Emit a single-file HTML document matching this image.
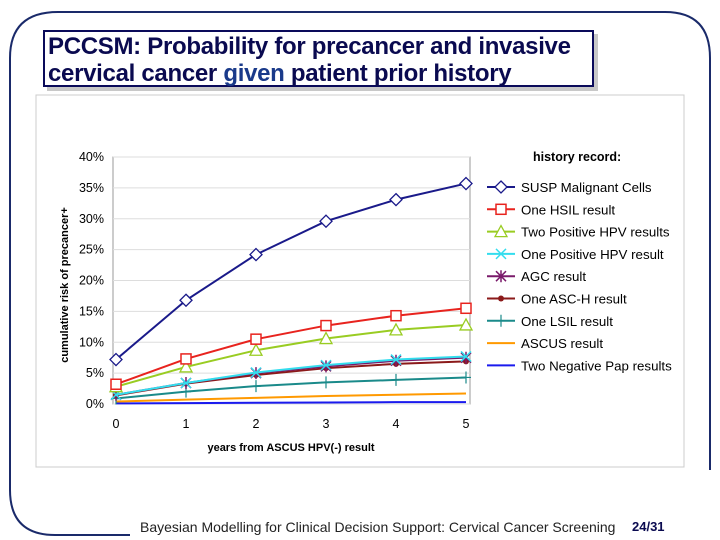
<!DOCTYPE html>
<html><head><meta charset="utf-8"><style>
body{margin:0;width:720px;height:540px;background:#fff;overflow:hidden;font-family:"Liberation Sans",Arial,sans-serif;position:relative}
#title{position:absolute;left:43px;top:30px;width:551px;height:57px;border:2px solid #0a0a5a;background:#fff;box-shadow:4px 4px 0 #c8c8c8;font-size:24px;font-weight:bold;color:#0a0a50;line-height:27px;padding:1px 0 0 3px;box-sizing:border-box;white-space:nowrap;letter-spacing:-0.3px}
#footer{position:absolute;left:140px;top:519px;font-size:14px;color:#222}
#pg{position:absolute;left:632px;top:519px;font-size:13px;font-weight:bold;color:#0a0a50}
</style></head><body>
<svg width="720" height="540" style="position:absolute;left:0;top:0">
<path d="M130 535 L55 535 Q10 535 10 490 L10 58 Q10 12 58 12 L665 12 Q710 12 710 58 L710 470" fill="none" stroke="#1a2a6a" stroke-width="2"/>
<rect x="36" y="95" width="648" height="372" fill="#fff" stroke="#ccc" stroke-width="1"/>
</svg>
<div id="title">PCCSM: Probability for precancer and invasive<br>cervical cancer <span style="color:#1a3a8a">given</span> patient prior history</div>
<svg id="chart" width="720" height="540" style="position:absolute;left:0;top:0"></svg>
<div id="footer">Bayesian Modelling for Clinical Decision Support: Cervical Cancer Screening</div>
<div id="pg">24/31</div>
<script>
const years=[0,1,2,3,4,5];
const yTicks=[0,5,10,15,20,25,30,35,40];
const names=["SUSP Malignant Cells","One HSIL result","Two Positive HPV results","One Positive HPV result","AGC result","One ASC-H result","One LSIL result","ASCUS result","Two Negative Pap results"];
const susp=[7.2,16.8,24.2,29.6,33.1,35.7];
const hsil=[3.2,7.3,10.5,12.7,14.3,15.5];
const twoPos=[2.8,6.0,8.7,10.6,12.0,12.8];
const onePos=[1.5,3.4,5.1,6.3,7.2,7.7];
const agc=[1.5,3.4,5.0,6.1,7.0,7.5];
const asch=[1.4,3.3,4.7,5.8,6.5,6.9];
const lsil=[0.9,2.0,2.9,3.5,3.9,4.3];
const ascus=[0.4,0.7,1.0,1.3,1.5,1.7];
const twoNeg=[0.1,0.15,0.2,0.25,0.3,0.3];
const series=[susp,hsil,twoPos,onePos,agc,asch,lsil,ascus,twoNeg];
const colors=["#1a1a8a","#e8231e","#99cc22","#33ddee","#7a1a6a","#8b1a1a","#1a8a8a","#ff9900","#1a1aee"];
const markers=["diamond","square","triangle","x","star","dot","plus","none","none"];
const svg=document.getElementById('chart');const NS="http://www.w3.org/2000/svg";
function mk(t,a,p){const e=document.createElementNS(NS,t);for(const k in a)e.setAttribute(k,a[k]);(p||svg).appendChild(e);return e;}
const X0=116,X1=466,Y0=404,Y1=157;
const xs=v=>X0+(X1-X0)*v/5, ys=v=>Y0-(Y0-Y1)*v/40;
mk('rect',{x:113,y:157,width:357,height:247,fill:'#fff',stroke:'#999'});
yTicks.forEach(t=>{const l=mk('line',{x1:113,x2:470,y1:ys(t),y2:ys(t),stroke:'#ddd'});


const tx=mk('text',{x:104,y:ys(t)+4,'text-anchor':'end','font-size':12.5,fill:'#000'});tx.textContent=t+'%';

});
years.forEach(v=>{const tx=mk('text',{x:xs(v),y:428,'text-anchor':'middle','font-size':12.5,fill:'#000'});tx.textContent=v;

});
const xt=mk('text',{x:291,y:451,'text-anchor':'middle','font-size':11,'font-weight':'bold'});xt.textContent='years from ASCUS HPV(-) result';


const yt=mk('text',{x:0,y:0,'text-anchor':'middle','font-size':11,'font-weight':'bold',transform:'translate(68,285) rotate(-90)'});yt.textContent='cumulative risk of precancer+';


function marker(type,x,y,c,g){
 if(type=='diamond')mk('path',{d:`M${x} ${y-6}L${x+6} ${y}L${x} ${y+6}L${x-6} ${y}Z`,fill:'#fff',stroke:c,'stroke-width':1.3},g);
 else if(type=='square')mk('rect',{x:x-5,y:y-5,width:10,height:10,fill:'#fff',stroke:c,'stroke-width':1.5},g);
 else if(type=='triangle')mk('path',{d:`M${x} ${y-6}L${x+6} ${y+5}L${x-6} ${y+5}Z`,fill:'#fff',stroke:c,'stroke-width':1.3},g);
 else if(type=='x')mk('path',{d:`M${x-5} ${y-5}L${x+5} ${y+5}M${x+5} ${y-5}L${x-5} ${y+5}`,stroke:c,'stroke-width':1.5},g);
 else if(type=='star')mk('path',{d:`M${x-5} ${y-5}L${x+5} ${y+5}M${x+5} ${y-5}L${x-5} ${y+5}M${x} ${y-6}L${x} ${y+6}`,stroke:c,'stroke-width':1.5},g);
 else if(type=='dot')mk('circle',{cx:x,cy:y,r:3,fill:c},g);
 else if(type=='plus')mk('path',{d:`M${x-5} ${y}L${x+5} ${y}M${x} ${y-6}L${x} ${y+6}`,stroke:c,'stroke-width':1.2},g);
}
for(let i=series.length-1;i>=0;i--){
 const g=mk('g',{});
 
 
 mk('polyline',{points:series[i].map((v,j)=>xs(years[j])+','+ys(v)).join(' '),fill:'none',stroke:colors[i],'stroke-width':2},g);
 series[i].forEach((v,j)=>marker(markers[i],xs(years[j]),ys(v),colors[i],g));
}
const lh=mk('text',{x:533,y:161,'font-size':12.5,'font-weight':'bold'});lh.textContent='history record:';


names.forEach((n,i)=>{const y=187+i*22.3;const g=mk('g',{});
 
 
 mk('line',{x1:487,x2:515,y1:y,y2:y,stroke:colors[i],'stroke-width':2},g);
 marker(markers[i],501,y,colors[i],g);
 const t=mk('text',{x:521,y:y+5,'font-size':13.3},g);t.textContent=n;});
</script>
</body></html>
